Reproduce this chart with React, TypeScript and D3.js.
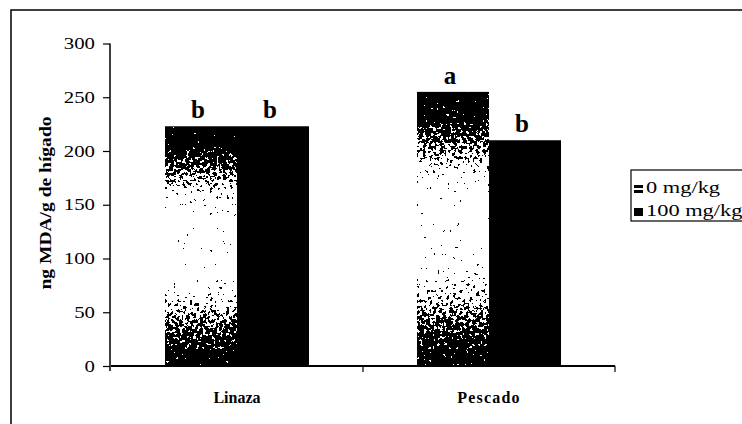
import React, { useRef, useEffect } from "react";
import * as d3 from "d3";

// data
const categories = ["Linaza", "Pescado"];
const series = ["0 mg/kg", "100 mg/kg"];
const dose0 = [223, 255];
const dose100 = [223, 210];
const letters0 = ["b", "a"];
const letters100 = ["b", "b"];
const yTicks = [0, 50, 100, 150, 200, 250, 300];
const yLabel = "ng MDA/g de hígado";

const W = 742;
const H = 424;
const serif = "'Liberation Serif', 'Times New Roman', serif";

// the scan is a bit wider than the font, so stretch text horizontally
function stretch(sel: d3.Selection<any, any, any, any>, k: number) {
  sel.each(function () {
    const t = this as SVGTextElement;
    const w = t.getComputedTextLength();
    d3.select(t).attr("textLength", w * k).attr("lengthAdjust", "spacingAndGlyphs");
  });
}

function App() {
  const svgRef = useRef<SVGSVGElement>(null);

  useEffect(() => {
    const svg = d3.select(svgRef.current);
    svg.selectAll("*").remove();

    // outer frame
    svg.append("rect")
      .attr("x", 11).attr("y", 10)
      .attr("width", 800).attr("height", 500)
      .attr("fill", "none").attr("stroke", "#000").attr("stroke-width", 1.5);

    // gradient + dither filter for the 0 mg/kg bars
    const defs = svg.append("defs");
    const grad = defs.append("linearGradient")
      .attr("id", "g0").attr("x1", 0).attr("y1", 0).attr("x2", 0).attr("y2", 1);
    [[0, 0], [0.08, 0.08], [0.2, 0.5], [0.32, 0.95], [0.38, 1.1], [0.62, 1.1],
     [0.7, 0.85], [0.84, 0.4], [0.95, 0.12], [1, 0.05]]
      .forEach(([o, l]) => {
        const c = Math.round(Math.min(1, l) * 255);
        grad.append("stop").attr("offset", o).attr("stop-color", `rgb(${c},${c},${c})`);
      });
    const lgrad = defs.append("linearGradient")
      .attr("id", "gl").attr("x1", 0).attr("y1", 0).attr("x2", 0).attr("y2", 1);
    [[0, "#000"], [0.35, "#000"], [0.36, "#fff"], [0.62, "#fff"], [0.63, "#000"], [1, "#000"]]
      .forEach(([o, c]) => lgrad.append("stop").attr("offset", o).attr("stop-color", c));

    const f = defs.append("filter").attr("id", "dither")
      .attr("color-interpolation-filters", "sRGB")
      .attr("x", 0).attr("y", 0).attr("width", 1).attr("height", 1);
    f.append("feTurbulence").attr("type", "fractalNoise")
      .attr("baseFrequency", 0.3).attr("numOctaves", 2).attr("seed", 5).attr("result", "n");
    f.append("feColorMatrix").attr("in", "n").attr("type", "matrix")
      .attr("values", "1 0 0 0 0  1 0 0 0 0  1 0 0 0 0  0 0 0 0 1").attr("result", "ng");
    f.append("feComposite").attr("in", "SourceGraphic").attr("in2", "ng")
      .attr("operator", "arithmetic").attr("k1", 0).attr("k2", 1).attr("k3", 1.8).attr("k4", -0.9)
      .attr("result", "mix");
    const ct = f.append("feComponentTransfer").attr("in", "mix").attr("result", "thr");
    ["feFuncR", "feFuncG", "feFuncB"].forEach(fn =>
      ct.append(fn).attr("type", "discrete").attr("tableValues", "0 1"));
    f.append("feComposite").attr("in", "thr").attr("in2", "SourceGraphic").attr("operator", "in");

    // scales
    const x = d3.scaleBand().domain(categories).range([111, 615]).padding(0);
    const xs = d3.scaleBand().domain(series).range([0, x.bandwidth()])
      .paddingInner(0).paddingOuter(0.75);
    const y = d3.scaleLinear().domain([0, 300]).range([366, 43.5]);

    const rows = categories.map((c, i) => ({
      cat: c,
      vals: [
        { s: series[0], v: dose0[i], l: letters0[i] },
        { s: series[1], v: dose100[i], l: letters100[i] },
      ],
    }));

    // bars
    const g = svg.append("g");
    rows.forEach(r => {
      r.vals.forEach((d, j) => {
        const bx = (x(r.cat) as number) + (xs(d.s) as number);
        const rect = g.append("rect")
          .attr("x", bx).attr("y", y(d.v))
          .attr("width", xs.bandwidth()).attr("height", y(0) - y(d.v));
        if (j === 0) rect.attr("fill", "url(#g0)").attr("filter", "url(#dither)");
        else rect.attr("fill", "#000");
        g.append("text")
          .attr("x", bx + xs.bandwidth() / 2 - 3).attr("y", y(d.v) - 8)
          .attr("text-anchor", "middle")
          .attr("font-family", serif).attr("font-weight", "bold").attr("font-size", 25)
          .text(d.l);
      });
    });

    // y axis
    const yAxis = svg.append("g").attr("transform", "translate(110,0)")
      .call(d3.axisLeft(y).tickValues(yTicks).tickSize(7).tickPadding(8).tickFormat(d3.format("d")));
    yAxis.select(".domain").attr("stroke-width", 1.5).attr("d", `M0,${y(300)}V${y(0) + 5}`);
    yAxis.selectAll("line").attr("stroke-width", 1.2);
    const yt = yAxis.selectAll("text")
      .attr("font-family", serif).attr("font-size", 16).attr("fill", "#000");
    stretch(yt as any, 1.3);

    // x axis
    const xa = svg.append("g");
    const [x0, x1] = x.range();
    xa.append("line").attr("x1", x0).attr("x2", x1).attr("y1", y(0)).attr("y2", y(0))
      .attr("stroke", "#000").attr("stroke-width", 2);
    categories.forEach(c => {
      const xe = (x(c) as number) + x.bandwidth();
      xa.append("line").attr("x1", xe).attr("x2", xe).attr("y1", y(0)).attr("y2", y(0) + 6)
        .attr("stroke", "#000").attr("stroke-width", 1.2);
      xa.append("text")
        .attr("x", (x(c) as number) + x.bandwidth() / 2).attr("y", 403)
        .attr("text-anchor", "middle")
        .attr("font-family", serif).attr("font-weight", "bold").attr("font-size", 16)
        .attr("letter-spacing", c === "Pescado" ? 1.2 : 0)
        .text(c);
    });

    // y label
    svg.append("text")
      .attr("transform", `translate(51,${203}) rotate(-90)`)
      .attr("text-anchor", "middle")
      .attr("font-family", serif).attr("font-weight", "bold").attr("font-size", 16)
      .attr("textLength", 173).attr("lengthAdjust", "spacingAndGlyphs")
      .text(yLabel);

    // legend
    const lg = svg.append("g").attr("transform", "translate(631,170)");
    lg.append("rect").attr("width", 140).attr("height", 51)
      .attr("fill", "#fff").attr("stroke", "#000").attr("stroke-width", 1.2);
    series.forEach((s, i) => {
      lg.append("rect").attr("x", 3).attr("y", 15 + i * 23)
        .attr("width", 9).attr("height", 8)
        .attr("fill", i === 0 ? "url(#gl)" : "#000");
      const t = lg.append("text").attr("x", 15).attr("y", 23 + i * 23)
        .attr("font-family", serif).attr("font-size", 16)
        .text(s);
      stretch(t, 1.4);
    });
  }, []);

  return (
    <div>
      <svg ref={svgRef} width={W} height={H}
        style={{ position: "absolute", left: 0, top: 0, background: "#fff" }} />
    </div>
  );
}

export default App;
